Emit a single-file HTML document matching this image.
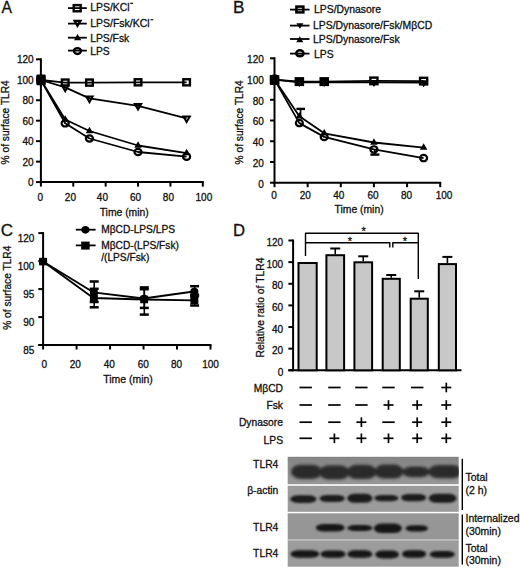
<!DOCTYPE html>
<html><head><meta charset="utf-8"><style>
html,body{margin:0;padding:0;background:#fff;}
svg{display:block;}
text{font-family:"Liberation Sans",sans-serif;fill:#111;stroke:#111;stroke-width:0.3px;}
</style></head><body>
<svg width="520" height="568" viewBox="0 0 520 568">
<defs><filter id="bl1" x="-20%" y="-50%" width="140%" height="200%"><feGaussianBlur stdDeviation="1.7"/></filter>
<filter id="bl2" x="-20%" y="-50%" width="140%" height="200%"><feGaussianBlur stdDeviation="0.9"/></filter>
<linearGradient id="g1" x1="0" y1="0" x2="0" y2="1"><stop offset="0" stop-color="#848484"/><stop offset="0.35" stop-color="#8c8c8c"/><stop offset="1" stop-color="#979797"/></linearGradient></defs>
<rect width="520" height="568" fill="#fff"/>
<text x="0" y="0" font-size="16.9" text-anchor="start" transform="translate(1.5,13.2) scale(0.93,1)">A</text>
<line x1="68" y1="8.1" x2="86.8" y2="8.1" stroke="#000" stroke-width="1.8"/>
<line x1="68" y1="23.6" x2="86.8" y2="23.6" stroke="#000" stroke-width="1.8"/>
<line x1="68" y1="37.7" x2="86.8" y2="37.7" stroke="#000" stroke-width="1.8"/>
<line x1="68" y1="50.6" x2="86.8" y2="50.6" stroke="#000" stroke-width="1.8"/>
<rect x="73.71" y="5.10" width="6.97" height="6.20" fill="none" stroke="#000" stroke-width="2.4"/>
<polygon points="74.52,20.80 80.48,20.80 77.50,25.92" fill="none" stroke="#000" stroke-width="2.2" stroke-linejoin="miter" stroke-miterlimit="10"/>
<polygon points="74.00,40.20 81.20,40.20 77.60,33.90" fill="#000"/>
<ellipse cx="77.45" cy="51.05" rx="3.52" ry="2.95" fill="none" stroke="#000" stroke-width="2.3"/>
<text x="90.2" y="10.6" font-size="10.45" text-anchor="start" >LPS/KCl</text>
<text x="90.2" y="26.5" font-size="10.5" text-anchor="start" >LPS/Fsk/KCl</text>
<line x1="130.2" y1="3.3" x2="133.1" y2="3.3" stroke="#222" stroke-width="1.3"/>
<line x1="150.5" y1="19.7" x2="153.2" y2="19.7" stroke="#222" stroke-width="1.3"/>
<text x="90.2" y="41.6" font-size="10.35" text-anchor="start" >LPS/Fsk</text>
<text x="90.2" y="55.0" font-size="10.3" text-anchor="start" >LPS</text>
<line x1="40.9" y1="58.3" x2="40.9" y2="183.1" stroke="#000" stroke-width="2"/>
<line x1="39.9" y1="182.1" x2="203.8" y2="182.1" stroke="#000" stroke-width="2"/>
<line x1="36" y1="182.1" x2="40.9" y2="182.1" stroke="#000" stroke-width="2"/>
<text x="33.6" y="186.0" font-size="10" text-anchor="end" >0</text>
<line x1="36" y1="161.63333333333333" x2="40.9" y2="161.63333333333333" stroke="#000" stroke-width="2"/>
<text x="33.6" y="165.53333333333333" font-size="10" text-anchor="end" >20</text>
<line x1="36" y1="141.16666666666666" x2="40.9" y2="141.16666666666666" stroke="#000" stroke-width="2"/>
<text x="33.6" y="145.06666666666666" font-size="10" text-anchor="end" >40</text>
<line x1="36" y1="120.69999999999999" x2="40.9" y2="120.69999999999999" stroke="#000" stroke-width="2"/>
<text x="33.6" y="124.6" font-size="10" text-anchor="end" >60</text>
<line x1="36" y1="100.23333333333333" x2="40.9" y2="100.23333333333333" stroke="#000" stroke-width="2"/>
<text x="33.6" y="104.13333333333334" font-size="10" text-anchor="end" >80</text>
<line x1="36" y1="79.76666666666667" x2="40.9" y2="79.76666666666667" stroke="#000" stroke-width="2"/>
<text x="33.6" y="83.66666666666667" font-size="10" text-anchor="end" >100</text>
<line x1="36" y1="59.3" x2="40.9" y2="59.3" stroke="#000" stroke-width="2"/>
<text x="33.6" y="63.199999999999996" font-size="10" text-anchor="end" >120</text>
<line x1="40.9" y1="182.1" x2="40.9" y2="186.6" stroke="#000" stroke-width="2"/>
<text x="40.4" y="200.9" font-size="10" text-anchor="middle" >0</text>
<line x1="73.28" y1="182.1" x2="73.28" y2="186.6" stroke="#000" stroke-width="2"/>
<text x="70.4" y="200.9" font-size="10" text-anchor="middle" >20</text>
<line x1="105.66" y1="182.1" x2="105.66" y2="186.6" stroke="#000" stroke-width="2"/>
<text x="102.4" y="200.9" font-size="10" text-anchor="middle" >40</text>
<line x1="138.04" y1="182.1" x2="138.04" y2="186.6" stroke="#000" stroke-width="2"/>
<text x="135.6" y="200.9" font-size="10" text-anchor="middle" >60</text>
<line x1="170.42000000000002" y1="182.1" x2="170.42000000000002" y2="186.6" stroke="#000" stroke-width="2"/>
<text x="168.4" y="200.9" font-size="10" text-anchor="middle" >80</text>
<line x1="202.8" y1="182.1" x2="202.8" y2="186.6" stroke="#000" stroke-width="2"/>
<text x="203.9" y="200.9" font-size="10" text-anchor="middle" >100</text>
<text x="124.2" y="216" font-size="10.35" text-anchor="middle" >Time (min)</text>
<text x="0" y="0" font-size="10.2" text-anchor="middle" transform="translate(9.3,122.3) rotate(-90)">% of surface TLR4</text>
<polyline points="40.9,80 65.185,82.6 89.47,82.6 138.04,82.3 186.61,82.3" fill="none" stroke="#000" stroke-width="1.8" stroke-linejoin="round"/>
<polyline points="40.9,80 65.185,87.4 89.47,98.4 138.04,105.8 186.61,118.3" fill="none" stroke="#000" stroke-width="1.8" stroke-linejoin="round"/>
<polyline points="40.9,80 65.185,119.5 89.47,131.0 138.04,145.5 186.61,153.2" fill="none" stroke="#000" stroke-width="1.8" stroke-linejoin="round"/>
<polyline points="40.9,80 65.185,123.3 89.47,138.5 138.04,152.0 186.61,156.7" fill="none" stroke="#000" stroke-width="1.8" stroke-linejoin="round"/>
<polygon points="37.15,82.17 44.65,82.17 40.90,75.67" fill="#000"/>
<polygon points="61.44,121.67 68.94,121.67 65.19,115.17" fill="#000"/>
<polygon points="85.72,133.17 93.22,133.17 89.47,126.67" fill="#000"/>
<polygon points="134.29,147.67 141.79,147.67 138.04,141.17" fill="#000"/>
<polygon points="182.86,155.37 190.36,155.37 186.61,148.87" fill="#000"/>
<ellipse cx="40.9" cy="80" rx="3.54" ry="3.20" fill="none" stroke="#000" stroke-width="2.2"/>
<ellipse cx="65.185" cy="123.3" rx="3.54" ry="3.20" fill="none" stroke="#000" stroke-width="2.2"/>
<ellipse cx="89.47" cy="138.5" rx="3.54" ry="3.20" fill="none" stroke="#000" stroke-width="2.2"/>
<ellipse cx="138.04" cy="152.0" rx="3.54" ry="3.20" fill="none" stroke="#000" stroke-width="2.2"/>
<ellipse cx="186.61" cy="156.7" rx="3.54" ry="3.20" fill="none" stroke="#000" stroke-width="2.2"/>
<polygon points="37.72,78.13 44.08,78.13 40.90,83.71" fill="none" stroke="#000" stroke-width="2.0" stroke-linejoin="miter" stroke-miterlimit="10"/>
<polygon points="62.01,85.53 68.36,85.53 65.19,91.11" fill="none" stroke="#000" stroke-width="2.0" stroke-linejoin="miter" stroke-miterlimit="10"/>
<polygon points="86.29,96.53 92.65,96.53 89.47,102.11" fill="none" stroke="#000" stroke-width="2.0" stroke-linejoin="miter" stroke-miterlimit="10"/>
<polygon points="134.86,103.93 141.22,103.93 138.04,109.51" fill="none" stroke="#000" stroke-width="2.0" stroke-linejoin="miter" stroke-miterlimit="10"/>
<polygon points="183.43,116.43 189.79,116.43 186.61,122.01" fill="none" stroke="#000" stroke-width="2.0" stroke-linejoin="miter" stroke-miterlimit="10"/>
<rect x="37.59" y="76.95" width="6.61" height="6.10" fill="none" stroke="#000" stroke-width="2.4"/>
<rect x="61.88" y="79.55" width="6.61" height="6.10" fill="none" stroke="#000" stroke-width="2.4"/>
<rect x="86.16" y="79.55" width="6.61" height="6.10" fill="none" stroke="#000" stroke-width="2.4"/>
<rect x="134.73" y="79.25" width="6.61" height="6.10" fill="none" stroke="#000" stroke-width="2.4"/>
<rect x="183.31" y="79.25" width="6.61" height="6.10" fill="none" stroke="#000" stroke-width="2.4"/>
<rect x="36.5" y="74.5" width="9.1" height="10.8" rx="0.8" fill="#000"/>
<text x="233.0" y="13.2" font-size="17.2" text-anchor="start" >B</text>
<line x1="290" y1="9.6" x2="309.5" y2="9.6" stroke="#000" stroke-width="1.8"/>
<line x1="290" y1="25.6" x2="309.5" y2="25.6" stroke="#000" stroke-width="1.8"/>
<line x1="290" y1="39.0" x2="309.5" y2="39.0" stroke="#000" stroke-width="1.8"/>
<line x1="290" y1="53.6" x2="309.5" y2="53.6" stroke="#000" stroke-width="1.8"/>
<rect x="296.42" y="6.60" width="6.96" height="5.80" fill="none" stroke="#000" stroke-width="2.5"/>
<polygon points="296.40,23.23 303.40,23.23 299.90,28.83" fill="#000"/>
<polygon points="296.20,42.20 303.40,42.20 299.80,36.20" fill="#000"/>
<ellipse cx="299.9" cy="53.3" rx="3.68" ry="3.00" fill="none" stroke="#000" stroke-width="2.5"/>
<text x="314.0" y="13.1" font-size="10.4" text-anchor="start" >LPS/Dynasore</text>
<text x="313.0" y="28.5" font-size="10.4" text-anchor="start" >LPS/Dynasore/Fsk/M&#946;CD</text>
<text x="313.0" y="42.7" font-size="10.4" text-anchor="start" >LPS/Dynasore/Fsk</text>
<text x="314.0" y="57.5" font-size="10.4" text-anchor="start" >LPS</text>
<line x1="274.5" y1="57.3" x2="274.5" y2="183.7" stroke="#000" stroke-width="2"/>
<line x1="273.5" y1="182.7" x2="441.2" y2="182.7" stroke="#000" stroke-width="2"/>
<line x1="270" y1="182.7" x2="274.5" y2="182.7" stroke="#000" stroke-width="2"/>
<text x="263.8" y="187.5" font-size="10" text-anchor="end" >0</text>
<line x1="270" y1="161.96666666666664" x2="274.5" y2="161.96666666666664" stroke="#000" stroke-width="2"/>
<text x="263.8" y="166.76666666666665" font-size="10" text-anchor="end" >20</text>
<line x1="270" y1="141.23333333333332" x2="274.5" y2="141.23333333333332" stroke="#000" stroke-width="2"/>
<text x="263.8" y="146.03333333333333" font-size="10" text-anchor="end" >40</text>
<line x1="270" y1="120.5" x2="274.5" y2="120.5" stroke="#000" stroke-width="2"/>
<text x="263.8" y="125.3" font-size="10" text-anchor="end" >60</text>
<line x1="270" y1="99.76666666666665" x2="274.5" y2="99.76666666666665" stroke="#000" stroke-width="2"/>
<text x="263.8" y="104.56666666666665" font-size="10" text-anchor="end" >80</text>
<line x1="270" y1="79.03333333333332" x2="274.5" y2="79.03333333333332" stroke="#000" stroke-width="2"/>
<text x="263.8" y="83.83333333333331" font-size="10" text-anchor="end" >100</text>
<line x1="270" y1="58.3" x2="274.5" y2="58.3" stroke="#000" stroke-width="2"/>
<text x="263.8" y="63.099999999999994" font-size="10" text-anchor="end" >120</text>
<line x1="274.5" y1="182.7" x2="274.5" y2="187.2" stroke="#000" stroke-width="2"/>
<text x="274.1" y="199.1" font-size="10" text-anchor="middle" >0</text>
<line x1="307.64" y1="182.7" x2="307.64" y2="187.2" stroke="#000" stroke-width="2"/>
<text x="305.3" y="199.1" font-size="10" text-anchor="middle" >20</text>
<line x1="340.78" y1="182.7" x2="340.78" y2="187.2" stroke="#000" stroke-width="2"/>
<text x="338.8" y="199.1" font-size="10" text-anchor="middle" >40</text>
<line x1="373.92" y1="182.7" x2="373.92" y2="187.2" stroke="#000" stroke-width="2"/>
<text x="373.1" y="199.1" font-size="10" text-anchor="middle" >60</text>
<line x1="407.06" y1="182.7" x2="407.06" y2="187.2" stroke="#000" stroke-width="2"/>
<text x="406.6" y="199.1" font-size="10" text-anchor="middle" >80</text>
<line x1="440.2" y1="182.7" x2="440.2" y2="187.2" stroke="#000" stroke-width="2"/>
<text x="444.0" y="199.1" font-size="10" text-anchor="middle" >100</text>
<text x="359.1" y="213.1" font-size="10.35" text-anchor="middle" >Time (min)</text>
<text x="0" y="0" font-size="10.2" text-anchor="middle" transform="translate(242.5,122.3) rotate(-90)">% of surface TLR4</text>
<line x1="300.6" y1="108.9" x2="300.6" y2="116" stroke="#000" stroke-width="1.6"/>
<line x1="296.4" y1="108.9" x2="305.0" y2="108.9" stroke="#000" stroke-width="2.4"/>
<line x1="374.8" y1="149" x2="374.8" y2="154.6" stroke="#000" stroke-width="1.6"/>
<line x1="370.4" y1="154.6" x2="379.4" y2="154.6" stroke="#000" stroke-width="2.4"/>
<polyline points="274.5,79.6 299.355,81.6 324.21,81.6 373.92,80.9 423.63,81.1" fill="none" stroke="#000" stroke-width="1.8" stroke-linejoin="round"/>
<polyline points="274.5,79.6 299.355,82.3 324.21,82.3 373.92,82.4 423.63,82.6" fill="none" stroke="#000" stroke-width="1.8" stroke-linejoin="round"/>
<polyline points="274.5,79.6 299.355,116.3 324.21,133.3 373.92,142.5 423.63,147.7" fill="none" stroke="#000" stroke-width="1.8" stroke-linejoin="round"/>
<polyline points="274.5,79.6 299.355,123.1 324.21,136.9 373.92,149.4 423.63,158.1" fill="none" stroke="#000" stroke-width="1.8" stroke-linejoin="round"/>
<polygon points="270.75,81.77 278.25,81.77 274.50,75.27" fill="#000"/>
<polygon points="295.61,118.47 303.11,118.47 299.36,111.97" fill="#000"/>
<polygon points="320.46,135.47 327.96,135.47 324.21,128.97" fill="#000"/>
<polygon points="370.17,144.67 377.67,144.67 373.92,138.17" fill="#000"/>
<polygon points="419.88,149.87 427.38,149.87 423.63,143.37" fill="#000"/>
<ellipse cx="274.5" cy="79.6" rx="3.49" ry="3.15" fill="none" stroke="#000" stroke-width="2.2"/>
<ellipse cx="299.355" cy="123.1" rx="3.49" ry="3.15" fill="none" stroke="#000" stroke-width="2.2"/>
<ellipse cx="324.21" cy="136.9" rx="3.49" ry="3.15" fill="none" stroke="#000" stroke-width="2.2"/>
<ellipse cx="373.92" cy="149.4" rx="3.49" ry="3.15" fill="none" stroke="#000" stroke-width="2.2"/>
<ellipse cx="423.63" cy="158.1" rx="3.49" ry="3.15" fill="none" stroke="#000" stroke-width="2.2"/>
<polygon points="269.90,77.27 279.10,77.27 274.50,84.27" fill="#000"/>
<polygon points="294.75,79.97 303.96,79.97 299.36,86.97" fill="#000"/>
<polygon points="319.61,79.97 328.81,79.97 324.21,86.97" fill="#000"/>
<polygon points="369.32,80.07 378.52,80.07 373.92,87.07" fill="#000"/>
<polygon points="419.03,80.27 428.23,80.27 423.63,87.27" fill="#000"/>
<rect x="270.93" y="76.30" width="7.14" height="6.60" fill="none" stroke="#000" stroke-width="2.4"/>
<rect x="296.19" y="78.70" width="6.34" height="5.80" fill="none" stroke="#000" stroke-width="3.2"/>
<rect x="321.04" y="78.70" width="6.34" height="5.80" fill="none" stroke="#000" stroke-width="3.2"/>
<rect x="370.35" y="77.60" width="7.14" height="6.60" fill="none" stroke="#000" stroke-width="2.4"/>
<rect x="420.06" y="77.80" width="7.14" height="6.60" fill="none" stroke="#000" stroke-width="2.4"/>
<path d="M270.1,85.0 L270.1,78.6 A4.6,4.4 0 0 1 279.3,78.6 L279.3,85.0 Z" fill="#000"/>
<text x="0.85" y="236.3" font-size="17.0" text-anchor="start" >C</text>
<line x1="75.8" y1="229.7" x2="95.6" y2="229.7" stroke="#000" stroke-width="1.8"/>
<line x1="75.8" y1="245.4" x2="95.6" y2="245.4" stroke="#000" stroke-width="1.8"/>
<ellipse cx="85.4" cy="229.8" rx="3.11" ry="2.80" fill="#000" stroke="#000" stroke-width="2.2"/>
<rect x="82.36" y="242.80" width="6.08" height="5.60" fill="#000" stroke="#000" stroke-width="2.4"/>
<text x="101.2" y="233.4" font-size="10.2" text-anchor="start" >M&#946;CD-LPS/LPS</text>
<text x="101.2" y="248.7" font-size="10.2" text-anchor="start" >M&#946;CD-(LPS/Fsk)</text>
<text x="101.2" y="261.0" font-size="10.2" text-anchor="start" >/(LPS/Fsk)</text>
<line x1="43.1" y1="232.1" x2="43.1" y2="346" stroke="#000" stroke-width="2"/>
<line x1="38.3" y1="345" x2="211.5" y2="345" stroke="#000" stroke-width="2"/>
<line x1="38.3" y1="233.1" x2="43.1" y2="233.1" stroke="#000" stroke-width="2"/>
<text x="34.4" y="241.6" font-size="10" text-anchor="end" >120</text>
<line x1="38.3" y1="261.1" x2="43.1" y2="261.1" stroke="#000" stroke-width="2"/>
<text x="34.4" y="269.6" font-size="10" text-anchor="end" >100</text>
<line x1="38.3" y1="289.1" x2="43.1" y2="289.1" stroke="#000" stroke-width="2"/>
<text x="34.4" y="297.6" font-size="10" text-anchor="end" >95</text>
<line x1="38.3" y1="317.1" x2="43.1" y2="317.1" stroke="#000" stroke-width="2"/>
<text x="34.4" y="325.6" font-size="10" text-anchor="end" >90</text>
<line x1="38.3" y1="345.0" x2="43.1" y2="345.0" stroke="#000" stroke-width="2"/>
<text x="34.4" y="353.5" font-size="10" text-anchor="end" >85</text>
<line x1="43.1" y1="345" x2="43.1" y2="349.5" stroke="#000" stroke-width="2"/>
<text x="44.4" y="368.1" font-size="10" text-anchor="middle" >0</text>
<line x1="76.58" y1="345" x2="76.58" y2="349.5" stroke="#000" stroke-width="2"/>
<text x="75.2" y="368.1" font-size="10" text-anchor="middle" >20</text>
<line x1="110.06" y1="345" x2="110.06" y2="349.5" stroke="#000" stroke-width="2"/>
<text x="109.3" y="368.1" font-size="10" text-anchor="middle" >40</text>
<line x1="143.54" y1="345" x2="143.54" y2="349.5" stroke="#000" stroke-width="2"/>
<text x="143.2" y="368.1" font-size="10" text-anchor="middle" >60</text>
<line x1="177.01999999999998" y1="345" x2="177.01999999999998" y2="349.5" stroke="#000" stroke-width="2"/>
<text x="176.5" y="368.1" font-size="10" text-anchor="middle" >80</text>
<line x1="210.5" y1="345" x2="210.5" y2="349.5" stroke="#000" stroke-width="2"/>
<text x="210.6" y="368.1" font-size="10" text-anchor="middle" >100</text>
<text x="128.0" y="382.7" font-size="10.45" text-anchor="middle" >Time (min)</text>
<text x="0" y="0" font-size="10.2" text-anchor="middle" transform="translate(11.4,287.7) rotate(-90)">% of surface TLR4</text>
<line x1="94.2" y1="281.5" x2="94.2" y2="302.0" stroke="#000" stroke-width="1.6"/>
<line x1="89.7" y1="281.5" x2="98.7" y2="281.5" stroke="#000" stroke-width="2.5"/>
<line x1="89.7" y1="302.0" x2="98.7" y2="302.0" stroke="#000" stroke-width="2.5"/>
<line x1="94.2" y1="288.8" x2="94.2" y2="307.3" stroke="#000" stroke-width="1.6"/>
<line x1="89.7" y1="288.8" x2="98.7" y2="288.8" stroke="#000" stroke-width="2.5"/>
<line x1="89.7" y1="307.3" x2="98.7" y2="307.3" stroke="#000" stroke-width="2.5"/>
<line x1="144.3" y1="287.4" x2="144.3" y2="307.9" stroke="#000" stroke-width="1.6"/>
<line x1="139.8" y1="287.4" x2="148.8" y2="287.4" stroke="#000" stroke-width="2.5"/>
<line x1="139.8" y1="307.9" x2="148.8" y2="307.9" stroke="#000" stroke-width="2.5"/>
<line x1="144.3" y1="289.2" x2="144.3" y2="314.6" stroke="#000" stroke-width="1.6"/>
<line x1="139.8" y1="289.2" x2="148.8" y2="289.2" stroke="#000" stroke-width="2.5"/>
<line x1="139.8" y1="314.6" x2="148.8" y2="314.6" stroke="#000" stroke-width="2.5"/>
<line x1="194.6" y1="286.2" x2="194.6" y2="296.2" stroke="#000" stroke-width="1.6"/>
<line x1="190.1" y1="286.2" x2="199.1" y2="286.2" stroke="#000" stroke-width="2.5"/>
<line x1="190.1" y1="296.2" x2="199.1" y2="296.2" stroke="#000" stroke-width="2.5"/>
<line x1="194.6" y1="294.6" x2="194.6" y2="305.5" stroke="#000" stroke-width="1.6"/>
<line x1="190.1" y1="294.6" x2="199.1" y2="294.6" stroke="#000" stroke-width="2.5"/>
<line x1="190.1" y1="305.5" x2="199.1" y2="305.5" stroke="#000" stroke-width="2.5"/>
<polyline points="43.1,261.6 93.32,292.3 143.54,298.5 193.76,291.5" fill="none" stroke="#000" stroke-width="1.8" stroke-linejoin="round"/>
<polyline points="43.1,261.6 93.32,298.0 143.54,299.5 193.76,300.4" fill="none" stroke="#000" stroke-width="1.8" stroke-linejoin="round"/>
<ellipse cx="43.1" cy="261.6" rx="2.95" ry="2.65" fill="#000" stroke="#000" stroke-width="2.2"/>
<ellipse cx="93.91999999999999" cy="292.3" rx="2.95" ry="2.65" fill="#000" stroke="#000" stroke-width="2.2"/>
<ellipse cx="144.14" cy="298.5" rx="2.95" ry="2.65" fill="#000" stroke="#000" stroke-width="2.2"/>
<ellipse cx="194.35999999999999" cy="291.5" rx="2.95" ry="2.65" fill="#000" stroke="#000" stroke-width="2.2"/>
<rect x="40.33" y="259.05" width="5.55" height="5.10" fill="#000" stroke="#000" stroke-width="2.4"/>
<rect x="91.14" y="295.45" width="5.55" height="5.10" fill="#000" stroke="#000" stroke-width="2.4"/>
<rect x="141.36" y="296.95" width="5.55" height="5.10" fill="#000" stroke="#000" stroke-width="2.4"/>
<rect x="191.58" y="297.85" width="5.55" height="5.10" fill="#000" stroke="#000" stroke-width="2.4"/>
<text x="233.1" y="235.7" font-size="16.7" text-anchor="start" >D</text>
<line x1="293.1" y1="239.5" x2="293.1" y2="371.3" stroke="#000" stroke-width="2"/>
<line x1="288.4" y1="370.3" x2="461.5" y2="370.3" stroke="#000" stroke-width="2"/>
<line x1="288.4" y1="370.3" x2="293.1" y2="370.3" stroke="#000" stroke-width="2"/>
<text x="283.2" y="375.8" font-size="10" text-anchor="end" >0</text>
<line x1="288.4" y1="348.6666666666667" x2="293.1" y2="348.6666666666667" stroke="#000" stroke-width="2"/>
<text x="283.2" y="354.1666666666667" font-size="10" text-anchor="end" >20</text>
<line x1="288.4" y1="327.03333333333336" x2="293.1" y2="327.03333333333336" stroke="#000" stroke-width="2"/>
<text x="283.2" y="332.53333333333336" font-size="10" text-anchor="end" >40</text>
<line x1="288.4" y1="305.4" x2="293.1" y2="305.4" stroke="#000" stroke-width="2"/>
<text x="283.2" y="310.9" font-size="10" text-anchor="end" >60</text>
<line x1="288.4" y1="283.76666666666665" x2="293.1" y2="283.76666666666665" stroke="#000" stroke-width="2"/>
<text x="283.2" y="289.26666666666665" font-size="10" text-anchor="end" >80</text>
<line x1="288.4" y1="262.1333333333333" x2="293.1" y2="262.1333333333333" stroke="#000" stroke-width="2"/>
<text x="283.2" y="267.6333333333333" font-size="10" text-anchor="end" >100</text>
<line x1="288.4" y1="240.5" x2="293.1" y2="240.5" stroke="#000" stroke-width="2"/>
<text x="283.2" y="246.0" font-size="10" text-anchor="end" >120</text>
<text x="0" y="0" font-size="10.35" text-anchor="middle" transform="translate(264.2,307.5) rotate(-90)">Relative ratio of TLR4</text>
<rect x="298.5" y="263.0" width="18.19999999999999" height="107.30000000000001" fill="#c8c8c8" stroke="#000" stroke-width="2"/>
<line x1="335.25" y1="248.5" x2="335.25" y2="254.2" stroke="#000" stroke-width="1.6"/>
<line x1="330.25" y1="248.5" x2="340.25" y2="248.5" stroke="#000" stroke-width="2"/>
<rect x="326.4" y="255.2" width="17.700000000000045" height="115.10000000000002" fill="#c8c8c8" stroke="#000" stroke-width="2"/>
<line x1="363.25" y1="256.3" x2="363.25" y2="261.3" stroke="#000" stroke-width="1.6"/>
<line x1="358.25" y1="256.3" x2="368.25" y2="256.3" stroke="#000" stroke-width="2"/>
<rect x="354.4" y="262.3" width="17.700000000000045" height="108.0" fill="#c8c8c8" stroke="#000" stroke-width="2"/>
<line x1="391.25" y1="275.0" x2="391.25" y2="277.8" stroke="#000" stroke-width="1.6"/>
<line x1="386.25" y1="275.0" x2="396.25" y2="275.0" stroke="#000" stroke-width="2"/>
<rect x="382.7" y="278.8" width="17.100000000000023" height="91.5" fill="#c8c8c8" stroke="#000" stroke-width="2"/>
<line x1="419.25" y1="291.3" x2="419.25" y2="297.7" stroke="#000" stroke-width="1.6"/>
<line x1="414.25" y1="291.3" x2="424.25" y2="291.3" stroke="#000" stroke-width="2"/>
<rect x="410.7" y="298.7" width="17.100000000000023" height="71.60000000000002" fill="#c8c8c8" stroke="#000" stroke-width="2"/>
<line x1="447.4" y1="256.9" x2="447.4" y2="263.1" stroke="#000" stroke-width="1.6"/>
<line x1="442.4" y1="256.9" x2="452.4" y2="256.9" stroke="#000" stroke-width="2"/>
<rect x="438.8" y="264.1" width="17.19999999999999" height="106.19999999999999" fill="#c8c8c8" stroke="#000" stroke-width="2"/>
<polyline points="305.5,256.0 305.5,233.3 418.3,233.3 418.3,279.0" fill="none" stroke="#000" stroke-width="1.4" stroke-linejoin="round"/>
<polyline points="305.5,242.7 389.8,242.7 389.8,247.6" fill="none" stroke="#000" stroke-width="1.4" stroke-linejoin="round"/>
<polyline points="392.8,247.6 392.8,242.7 418.3,242.7" fill="none" stroke="#000" stroke-width="1.4" stroke-linejoin="round"/>
<text x="363.6" y="234.6" font-size="11" text-anchor="middle" >*</text>
<text x="349.9" y="244.8" font-size="11" text-anchor="middle" >*</text>
<text x="404.8" y="244.7" font-size="11" text-anchor="middle" >*</text>
<text x="283.0" y="391.9" font-size="10.3" text-anchor="end" >M&#946;CD</text>
<line x1="299.5" y1="387.5" x2="311.9" y2="387.5" stroke="#000" stroke-width="1.7"/>
<line x1="328.2" y1="387.5" x2="340.59999999999997" y2="387.5" stroke="#000" stroke-width="1.7"/>
<line x1="355.2" y1="387.5" x2="367.59999999999997" y2="387.5" stroke="#000" stroke-width="1.7"/>
<line x1="382.3" y1="387.5" x2="394.7" y2="387.5" stroke="#000" stroke-width="1.7"/>
<line x1="411.0" y1="387.5" x2="423.4" y2="387.5" stroke="#000" stroke-width="1.7"/>
<line x1="441.3" y1="387.5" x2="451.3" y2="387.5" stroke="#000" stroke-width="1.7"/>
<line x1="446.3" y1="382.7" x2="446.3" y2="392.3" stroke="#000" stroke-width="1.7"/>
<text x="283.0" y="408.6" font-size="10.3" text-anchor="end" >Fsk</text>
<line x1="299.5" y1="405.0" x2="311.9" y2="405.0" stroke="#000" stroke-width="1.7"/>
<line x1="328.2" y1="405.0" x2="340.59999999999997" y2="405.0" stroke="#000" stroke-width="1.7"/>
<line x1="355.2" y1="405.0" x2="367.59999999999997" y2="405.0" stroke="#000" stroke-width="1.7"/>
<line x1="383.5" y1="405.0" x2="393.5" y2="405.0" stroke="#000" stroke-width="1.7"/>
<line x1="388.5" y1="400.2" x2="388.5" y2="409.8" stroke="#000" stroke-width="1.7"/>
<line x1="412.2" y1="405.0" x2="422.2" y2="405.0" stroke="#000" stroke-width="1.7"/>
<line x1="417.2" y1="400.2" x2="417.2" y2="409.8" stroke="#000" stroke-width="1.7"/>
<line x1="441.3" y1="405.0" x2="451.3" y2="405.0" stroke="#000" stroke-width="1.7"/>
<line x1="446.3" y1="400.2" x2="446.3" y2="409.8" stroke="#000" stroke-width="1.7"/>
<text x="283.0" y="426.4" font-size="10.3" text-anchor="end" >Dynasore</text>
<line x1="299.5" y1="422.2" x2="311.9" y2="422.2" stroke="#000" stroke-width="1.7"/>
<line x1="328.2" y1="422.2" x2="340.59999999999997" y2="422.2" stroke="#000" stroke-width="1.7"/>
<line x1="356.4" y1="422.2" x2="366.4" y2="422.2" stroke="#000" stroke-width="1.7"/>
<line x1="361.4" y1="417.4" x2="361.4" y2="427.0" stroke="#000" stroke-width="1.7"/>
<line x1="382.3" y1="422.2" x2="394.7" y2="422.2" stroke="#000" stroke-width="1.7"/>
<line x1="412.2" y1="422.2" x2="422.2" y2="422.2" stroke="#000" stroke-width="1.7"/>
<line x1="417.2" y1="417.4" x2="417.2" y2="427.0" stroke="#000" stroke-width="1.7"/>
<line x1="441.3" y1="422.2" x2="451.3" y2="422.2" stroke="#000" stroke-width="1.7"/>
<line x1="446.3" y1="417.4" x2="446.3" y2="427.0" stroke="#000" stroke-width="1.7"/>
<text x="283.0" y="443.9" font-size="10.3" text-anchor="end" >LPS</text>
<line x1="299.5" y1="438.3" x2="311.9" y2="438.3" stroke="#000" stroke-width="1.7"/>
<line x1="329.4" y1="438.3" x2="339.4" y2="438.3" stroke="#000" stroke-width="1.7"/>
<line x1="334.4" y1="433.5" x2="334.4" y2="443.1" stroke="#000" stroke-width="1.7"/>
<line x1="356.4" y1="438.3" x2="366.4" y2="438.3" stroke="#000" stroke-width="1.7"/>
<line x1="361.4" y1="433.5" x2="361.4" y2="443.1" stroke="#000" stroke-width="1.7"/>
<line x1="383.5" y1="438.3" x2="393.5" y2="438.3" stroke="#000" stroke-width="1.7"/>
<line x1="388.5" y1="433.5" x2="388.5" y2="443.1" stroke="#000" stroke-width="1.7"/>
<line x1="412.2" y1="438.3" x2="422.2" y2="438.3" stroke="#000" stroke-width="1.7"/>
<line x1="417.2" y1="433.5" x2="417.2" y2="443.1" stroke="#000" stroke-width="1.7"/>
<line x1="441.3" y1="438.3" x2="451.3" y2="438.3" stroke="#000" stroke-width="1.7"/>
<line x1="446.3" y1="433.5" x2="446.3" y2="443.1" stroke="#000" stroke-width="1.7"/>
<rect x="287.7" y="456.8" width="171" height="27.399999999999977" fill="url(#g1)"/>
<rect x="287.7" y="485.8" width="171" height="26.0" fill="#9b9b9b"/>
<rect x="287.7" y="513.3" width="171" height="26.200000000000045" fill="#969696"/>
<rect x="287.7" y="540.3" width="171" height="26.40000000000009" fill="#9c9c9c"/>
<rect x="287.7" y="539.4" width="171" height="1.0" fill="#b4b4b4"/>
<clipPath id="cp0"><rect x="287.7" y="456.8" width="171" height="27.399999999999977"/></clipPath>
<g clip-path="url(#cp0)"><g filter="url(#bl1)" fill="#2a2a2a">
<rect x="291.0" y="464.8" width="31.0" height="14.099999999999966" rx="9.5" ry="7.049999999999983"/>
<rect x="319.3" y="465.2" width="30.0" height="14.400000000000034" rx="9.5" ry="7.200000000000017"/>
<rect x="346.9" y="464.8" width="29.600000000000023" height="14.300000000000011" rx="9.472000000000007" ry="7.150000000000006"/>
<rect x="374.5" y="464.6" width="29.0" height="14.0" rx="9.28" ry="7.0"/>
<rect x="402.5" y="466.4" width="27.19999999999999" height="10.800000000000011" rx="8.703999999999997" ry="5.400000000000006"/>
<rect x="428.3" y="465.0" width="33.69999999999999" height="13.199999999999989" rx="9.5" ry="6.599999999999994"/>
</g></g>
<clipPath id="cp1"><rect x="287.7" y="485.8" width="171" height="26.0"/></clipPath>
<g clip-path="url(#cp1)"><g filter="url(#bl2)" fill="#1a1a1a">
<rect x="290.2" y="495.3" width="26.30000000000001" height="7.599999999999966" rx="7.890000000000003" ry="3.799999999999983"/>
<rect x="319.6" y="495" width="25.099999999999966" height="6.899999999999977" rx="7.52999999999999" ry="3.4499999999999886"/>
<rect x="347.3" y="493.8" width="25.099999999999966" height="9.0" rx="7.52999999999999" ry="4.5"/>
<rect x="374.3" y="495" width="24.19999999999999" height="6.199999999999989" rx="7.259999999999996" ry="3.0999999999999943"/>
<rect x="401.1" y="494.0" width="25.099999999999966" height="7.199999999999989" rx="7.52999999999999" ry="3.5999999999999943"/>
<rect x="428.8" y="493.8" width="27.69999999999999" height="9.0" rx="8.309999999999997" ry="4.5"/>
</g></g>
<clipPath id="cp2"><rect x="287.7" y="513.3" width="171" height="26.200000000000045"/></clipPath>
<g clip-path="url(#cp2)"><g filter="url(#bl2)" fill="#181818">
<rect x="315.8" y="523.9" width="28.899999999999977" height="7.7000000000000455" rx="8.669999999999993" ry="3.8500000000000227"/>
<rect x="347.3" y="525" width="25.099999999999966" height="6.0" rx="7.52999999999999" ry="3.0"/>
<rect x="373.8" y="523.6" width="28.19999999999999" height="9.5" rx="8.459999999999996" ry="4.75"/>
<rect x="405.5" y="525.3" width="22.5" height="6.100000000000023" rx="6.75" ry="3.0500000000000114"/>
</g></g>
<clipPath id="cp3"><rect x="287.7" y="540.3" width="171" height="26.40000000000009"/></clipPath>
<g clip-path="url(#cp3)"><g filter="url(#bl2)" fill="#151515">
<rect x="290.5" y="550.2" width="28.80000000000001" height="7.599999999999909" rx="8.640000000000002" ry="3.7999999999999545"/>
<rect x="320.5" y="550.5" width="25.100000000000023" height="7.2000000000000455" rx="7.5300000000000065" ry="3.6000000000000227"/>
<rect x="347.3" y="550.3" width="25.099999999999966" height="7.5" rx="7.52999999999999" ry="3.75"/>
<rect x="375.2" y="550.6" width="23.80000000000001" height="7.7999999999999545" rx="7.140000000000003" ry="3.8999999999999773"/>
<rect x="402" y="550.2" width="24.19999999999999" height="7.599999999999909" rx="7.259999999999996" ry="3.7999999999999545"/>
<rect x="429.7" y="550.9" width="25.100000000000023" height="6.800000000000068" rx="7.5300000000000065" ry="3.400000000000034"/>
</g></g>
<text x="278.3" y="467.5" font-size="10.3" text-anchor="end" >TLR4</text>
<text x="278.3" y="494.4" font-size="10.3" text-anchor="end" >&#946;-actin</text>
<text x="278.3" y="530.5" font-size="10.3" text-anchor="end" >TLR4</text>
<text x="278.3" y="556.6" font-size="10.3" text-anchor="end" >TLR4</text>
<line x1="462.3" y1="458.7" x2="462.3" y2="510" stroke="#000" stroke-width="1.4"/>
<line x1="462.3" y1="514.6" x2="462.3" y2="564.6" stroke="#000" stroke-width="1.4"/>
<text x="465.5" y="481.4" font-size="10.45" text-anchor="start" >Total</text>
<text x="465.5" y="493.8" font-size="10.45" text-anchor="start" >(2 h)</text>
<text x="465.5" y="522.3" font-size="10.45" text-anchor="start" >Internalized</text>
<text x="465.5" y="534.6" font-size="10.45" text-anchor="start" >(30min)</text>
<text x="465.5" y="551.5" font-size="10.45" text-anchor="start" >Total</text>
<text x="465.5" y="563.8" font-size="10.45" text-anchor="start" >(30min)</text>
</svg>
</body></html>
